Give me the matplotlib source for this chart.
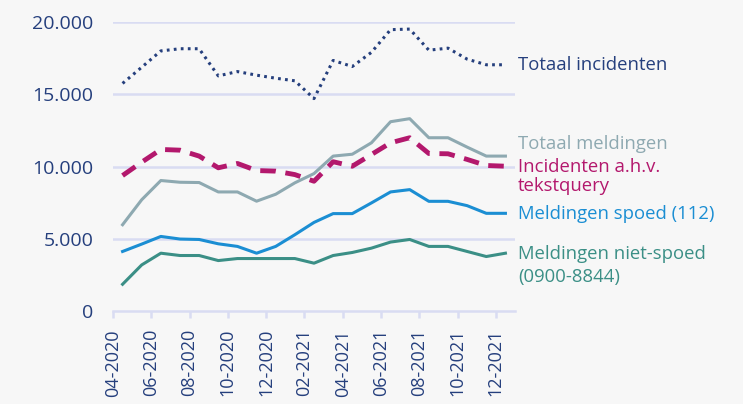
import numpy as np
import matplotlib
matplotlib.use('Agg')
import matplotlib.pyplot as plt

# maanden 04-2020 .. 12-2021
months = ['04-2020', '05-2020', '06-2020', '07-2020', '08-2020', '09-2020', '10-2020',
          '11-2020', '12-2020', '01-2021', '02-2021', '03-2021', '04-2021', '05-2021',
          '06-2021', '07-2021', '08-2021', '09-2021', '10-2021', '11-2021', '12-2021']

totaal_incidenten = [15750, 16870, 18000, 18150, 18150, 16270, 16570, 16320, 16110, 15930, 14700,
                     17340, 16920, 17900, 19470, 19510, 18050, 18190, 17430, 17040, 17040]
incidenten_tekst = [9375, 10300, 11180, 11130, 10720, 9910, 10210, 9720, 9680, 9440, 8980,
                    10330, 10020, 10830, 11640, 11990, 10900, 10880, 10490, 10070, 10020]
totaal_meldingen = [5970, 7700, 9030, 8910, 8890, 8240, 8240, 7600, 8080, 8870, 9510,
                    10720, 10850, 11640, 13100, 13310, 11990, 11990, 11340, 10720, 10720]
meldingen_spoed = [4120, 4630, 5160, 4980, 4950, 4650, 4470, 4000, 4470, 5280, 6130,
                   6740, 6740, 7480, 8240, 8400, 7590, 7590, 7290, 6760, 6760]
meldingen_niet_spoed = [1850, 3190, 4000, 3840, 3840, 3490, 3630, 3630, 3630, 3630, 3310,
                        3840, 4050, 4350, 4770, 4950, 4470, 4470, 4120, 3770, 4000]

yticks = [0, 5000, 10000, 15000, 20000]
ytick_labels = ['0', '5.000', '10.000', '15.000', '20.000']

navy = '#253F7D'
magenta = '#B3186D'
grey = '#8EA9B1'
blue = '#1B8ED3'
teal = '#3B8F86'
gridc = '#D9DCF2'
bg = '#F7F7F7'

plt.rcParams['font.family'] = ['Open Sans', 'DejaVu Sans']

fig = plt.figure(figsize=(7.43, 4.04), dpi=100, facecolor=bg)
ax = fig.add_axes([113/743, 1-311/404, (515-113)/743, (311-22)/404])
ax.set_facecolor(bg)

x = np.arange(len(months)) + 0.5

ax.plot(x, totaal_meldingen, color=grey, lw=2.2, zorder=3)
ax.plot(x, meldingen_niet_spoed, color=teal, lw=2.2, zorder=3)
ax.plot(x, meldingen_spoed, color=blue, lw=2.2, zorder=3)
ax.plot(x, incidenten_tekst, color=magenta, lw=3.5, dashes=(3.2, 2.0), zorder=4)
ax.plot(x, totaal_incidenten, color=navy, lw=2.2, dashes=(0.9, 1.4), zorder=4)

ax.set_xlim(0, len(months))
ax.set_ylim(0, 20000)
ax.set_yticks(yticks)
ax.set_yticklabels(ytick_labels)
ax.set_xticks(np.arange(0, len(months), 2))
ax.set_xticklabels(months[::2], rotation=90, va='top', ha='center')

for y in yticks[1:]:
    ax.axhline(y, color=gridc, lw=1.8, zorder=1)

for s in ['top', 'right', 'left']:
    ax.spines[s].set_visible(False)
ax.spines['bottom'].set_color(gridc)
ax.spines['bottom'].set_linewidth(1.8)
ax.spines['bottom'].set_zorder(1)

ax.tick_params(axis='y', length=0, pad=14, labelsize=14, labelcolor=navy)
ax.tick_params(axis='x', length=5, width=1.8, color=gridc, pad=8, labelsize=13, labelcolor=navy)

tr = ax.get_yaxis_transform()
labels = [
    ('Totaal incidenten', 17000, navy, 1.1),
    ('Totaal meldingen', 11550, grey, 1.1),
    ('Incidenten a.h.v.\ntekstquery', 9320, magenta, 1.05),
    ('Meldingen spoed (112)', 6740, blue, 1.1),
    ('Meldingen niet-spoed\n(0900-8844)', 3170, teal, 1.35),
]
for txt, yv, c, ls in labels:
    ax.text(1.008, yv, txt, transform=tr, color=c, fontsize=13.3, va='center', ha='left',
            linespacing=ls, clip_on=False)

fig.savefig('out.png', dpi=100, facecolor=bg)
